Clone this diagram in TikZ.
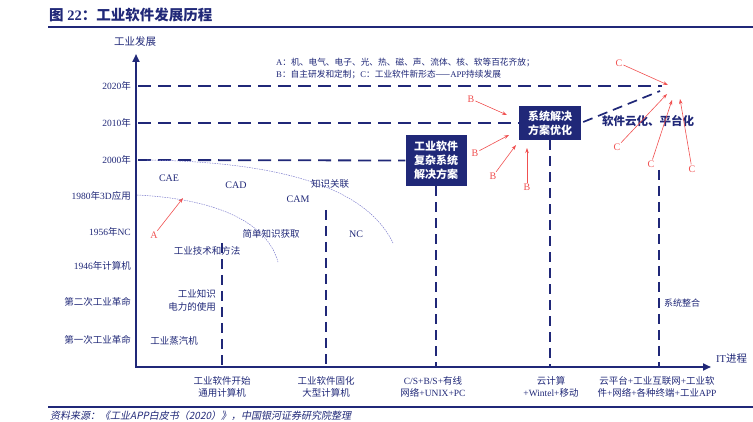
\documentclass[tikz,border=0pt]{standalone}
\usepackage{fontspec}
\setmainfont{Liberation Serif}
\newfontfamily\cjk{Noto Sans CJK SC}
\newfontfamily\cjkit[FakeSlant=0.2]{Noto Sans CJK SC}
\usetikzlibrary{arrows.meta}
\definecolor{navy}{RGB}{32,40,120}
\definecolor{redc}{RGB}{240,80,80}
\definecolor{arcc}{RGB}{125,125,205}
\newcommand\zh[1]{{\cjk #1}}
\begin{document}
\begin{tikzpicture}[x=1pt,y=-1pt,
  ylab/.style={anchor=east, text=navy, font=\fontsize{9.5}{11}\selectfont, inner sep=0pt},
  lab/.style={text=navy, font=\cjk\fontsize{9.5}{12.5}\selectfont, inner sep=0pt, align=center},
  latin/.style={text=navy, font=\fontsize{10}{12}\selectfont, inner sep=0pt},
  hdash/.style={navy, line width=1.8pt, dash pattern=on 13pt off 7pt},
  vdash/.style={navy, line width=1.7pt, dash pattern=on 10pt off 6pt},
  axisline/.style={navy, line width=2.4pt, {Triangle[length=8pt,width=7pt]}-{Triangle[length=8pt,width=7pt]}},
  solbox/.style={fill=navy, text=white, font=\cjk\bfseries\fontsize{11}{14}\selectfont, align=center, inner sep=0pt},
  redarr/.style={redc, line width=0.6pt, -{Stealth[length=5pt,width=3.5pt]}, shorten <=1pt},
  rlab/.style={text=redc, font=\fontsize{10}{12}\selectfont, inner sep=0pt},
  arcline/.style={arcc, line width=0.5pt, dash pattern=on 1.5pt off 1pt}
]
\useasboundingbox (0,0) rectangle (753,422);

% title
\node[anchor=west, text=navy, inner sep=0pt, font=\fontsize{14.5}{16}\selectfont\bfseries] (title) at (49,15) {{\cjk\bfseries 图} 22{\cjk\bfseries ：工业软件发展历程}};
\coordinate (rl1) at (48,27); \coordinate (rr1) at (753,27);
\draw[navy, line width=1.6pt] (rl1) -- (rr1);
\coordinate (rl2) at (48,407); \coordinate (rr2) at (753,407);
\draw[navy, line width=1.4pt] (rl2) -- (rr2);
\node[anchor=base west, text=navy, inner sep=0pt, font=\cjkit\fontsize{10}{12}\selectfont] (src) at (50,419.5) {资料来源：《工业APP白皮书（2020）》，中国银河证券研究院整理};

% axes
\coordinate (O) at (136,367);
\coordinate (ytop) at (136,54);
\coordinate (xend) at (711,367);
\draw[axisline] (ytop) -- (O) -- (xend);
\node[lab, font=\cjk\fontsize{10.5}{12}\selectfont] (yname) at (135,42) {工业发展};
\node[anchor=west, text=navy, inner sep=0pt, font=\fontsize{10.5}{12}\selectfont] (xname) at (716,359) {IT\zh{进程}};

% y labels
\node[ylab] (y2020) at (131,86) {2020\zh{年}};
\node[ylab] (y2010) at (131,123) {2010\zh{年}};
\node[ylab] (y2000) at (131,160) {2000\zh{年}};
\node[ylab] (y1980) at (131,196) {1980\zh{年}3D\zh{应用}};
\node[ylab] (y1956) at (131,232) {1956\zh{年}NC};
\node[ylab] (y1946) at (131,266) {1946\zh{年计算机}};
\node[ylab, font=\cjk\fontsize{9.5}{11}\selectfont] (yII) at (131,302) {第二次工业革命};
\node[ylab, font=\cjk\fontsize{9.5}{11}\selectfont] (yI) at (131,340) {第一次工业革命};

% boxes
\node[solbox, minimum width=61pt, minimum height=51pt] (box1) at (436,160.5) {工业软件\\复杂系统\\解决方案};
\node[solbox, minimum width=62pt, minimum height=34pt] (box2) at (550,123) {系统解决\\方案优化};

% horizontal dashed lines
\coordinate (h20a) at (138,86); \coordinate (h20b) at (662,86);
\coordinate (h10a) at (138,123);
\coordinate (h00a) at (138,160);
\draw[hdash] (h20a) -- (h20b);
\draw[hdash] (h10a) -- (box2.west);
\draw[hdash] (h00a) -- (box1.west);
\coordinate (dg) at (660,91);
\draw[hdash, line width=1.7pt, dash pattern=on 10pt off 6pt] (box2.east) ++(2,-1) -- (dg);

% vertical dashed lines
\coordinate (v1a) at (222,243); \coordinate (v1b) at (222,366);
\coordinate (v2a) at (326,210); \coordinate (v2b) at (326,366);
\coordinate (v3b) at (436,366);
\coordinate (v4b) at (550,366);
\coordinate (v5a) at (659,170); \coordinate (v5b) at (659,366);
\draw[vdash] (v1a) -- (v1b);
\draw[vdash] (v2a) -- (v2b);
\draw[vdash] (box1.south) -- (v3b);
\draw[vdash] (box2.south) -- (v4b);
\draw[vdash] (v5a) -- (v5b);

% arcs
\draw[arcline] (137,195) .. controls (200,198) and (265,215) .. (278,262);
\draw[arcline] (147,160) .. controls (275,162) and (365,185) .. (393,243);

% plot labels
\node[latin] (cae) at (169,178) {CAE};
\node[latin] (cad) at (236,185) {CAD};
\node[latin] (cam) at (298,199) {CAM};
\node[latin] (nc) at (356,234) {NC};
\node[lab] (zsgl) at (330,184) {知识关联};
\node[lab] (jdzs) at (271,234) {简单知识获取};
\node[lab] (gyjs) at (207,251) {工业技术和方法};
\node[lab, anchor=east] (gyzs) at (216,294) {工业知识};
\node[lab, anchor=east] (dl) at (216,307) {电力的使用};
\node[lab] (zqj) at (174,341) {工业蒸汽机};
\node[lab, anchor=west, font=\cjk\fontsize{9}{11}\selectfont] (xtzh) at (664,303) {系统整合};
\node[lab, anchor=west, font=\cjk\bfseries\fontsize{11.5}{13}\selectfont] (yun) at (602,121) {软件云化、平台化};

% legend
\node[anchor=west, text=navy, inner sep=0pt, font=\fontsize{8.7}{10}\selectfont] (legA) at (276,63) {A\zh{：机、电气、电子、光、热、磁、声、流体、核、软等百花齐放；}};
\node[anchor=west, text=navy, inner sep=0pt, font=\fontsize{8.7}{10}\selectfont] (legB) at (276,75) {B\zh{：自主研发和定制；}C\zh{：工业软件新形态——}APP\zh{持续发展}};

% bottom labels
\node[lab, font=\fontsize{9.5}{12.5}\selectfont] (b1) at (222,387) {\zh{工业软件开始}\\\zh{通用计算机}};
\node[lab, font=\fontsize{9.5}{12.5}\selectfont] (b2) at (326,387) {\zh{工业软件固化}\\\zh{大型计算机}};
\node[lab, font=\fontsize{9.5}{12.5}\selectfont] (b3) at (433,387) {C/S+B/S+\zh{有线}\\\zh{网络}+UNIX+PC};
\node[lab, font=\fontsize{9.5}{12.5}\selectfont] (b4) at (551,387) {\zh{云计算}\\+Wintel+\zh{移动}};
\node[lab, font=\fontsize{9.5}{12.5}\selectfont] (b5) at (657,387) {\zh{云平台}+\zh{工业互联网}+\zh{工业软}\\\zh{件}+\zh{网络}+\zh{各种终端}+\zh{工业}APP};

% red arrows
\node[rlab] (A) at (154,235) {A};
\coordinate (At) at (183,198);
\draw[redarr] (A) -- (At);
\node[rlab] (B1) at (471,99) {B}; \coordinate (B1t) at (507,115);
\node[rlab] (B2) at (475,153) {B}; \coordinate (B2t) at (509,135);
\node[rlab] (B3) at (493,176) {B}; \coordinate (B3t) at (516,145);
\node[rlab] (B4) at (527,187) {B}; \coordinate (B4t) at (527,148);
\draw[redarr] (B1) -- (B1t);
\draw[redarr] (B2) -- (B2t);
\draw[redarr] (B3) -- (B3t);
\draw[redarr] (B4) -- (B4t);
\node[rlab] (C1) at (619,63) {C}; \coordinate (C1t) at (668,85);
\node[rlab] (C2) at (617,147) {C}; \coordinate (C2t) at (667,94);
\node[rlab] (C3) at (651,164) {C}; \coordinate (C3t) at (672,100);
\node[rlab] (C4) at (692,169) {C}; \coordinate (C4t) at (680,99);
\draw[redarr] (C1) -- (C1t);
\draw[redarr] (C2) -- (C2t);
\draw[redarr] (C3) -- (C3t);
\draw[redarr] (C4) -- (C4t);
\end{tikzpicture}
\end{document}
